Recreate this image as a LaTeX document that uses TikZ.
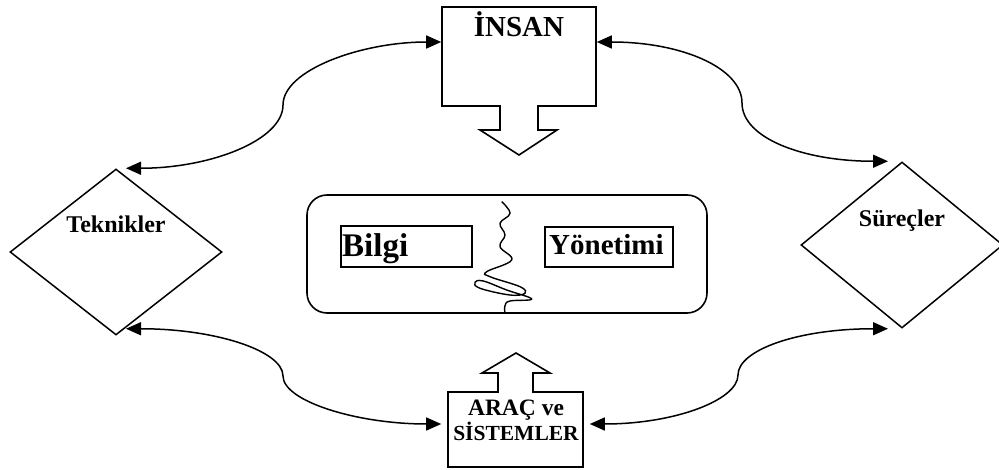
\documentclass[tikz,border=0pt]{standalone}
\usepackage{fontspec}
\setmainfont{Liberation Serif}
\usetikzlibrary{shapes.geometric,arrows.meta}
\begin{document}
\begin{tikzpicture}[x=1pt,y=-1pt,
  outline/.style={draw=black,line width=1.6pt,inner sep=0pt},
  rhomb/.style={diamond,draw=black,line width=1.5pt,inner sep=0pt},
  link/.style={line width=1.5pt,
    {Triangle[length=15pt,width=13pt]}-{Triangle[length=15pt,width=13pt]}},
  word/.style={inner sep=0pt},
  blockarrow/.style={line width=1.6pt,line join=miter}]
\useasboundingbox (0,0) rectangle (999,470);

% --- central panel ---
\node[outline,rounded corners=20pt,minimum width=400pt,minimum height=118pt] (panel) at (507,254) {};
\node[draw=black,line width=1.3pt,inner sep=0pt,minimum width=131pt,minimum height=41pt] (bilgibox) at (406.5,246.5) {};
\node[draw=black,line width=1.3pt,inner sep=0pt,minimum width=128pt,minimum height=40pt] (yonbox) at (609,247) {};
\node[word,anchor=base west,font=\fontsize{33}{33}\selectfont\bfseries] (bilgi) at (342,257) {Bilgi};
\node[word,anchor=base west,font=\fontsize{29}{29}\selectfont\bfseries] (yon) at (549,255) {Yönetimi};
\draw[line width=1.4pt] plot[smooth,tension=0.65] coordinates {
  (501.7,201.7) (510,213.3) (500,223.3) (505,235) (500,246.7)
  (511.7,260) (486.7,271.7) (490,276.7) (520,286.7) (525,293.3)
  (510,295) (480,288.3) (475,282.3) (483.3,281) (506.7,290)
  (531.7,299) (510,301) (505,305.7) (505,313.3)};

% --- top: İNSAN with its downward block arrow ---
\node[outline,minimum width=154pt,minimum height=99pt] (insan) at (519,56.5) {};
\fill[white] (500.8,104.5) rectangle (537.2,107.5);
\draw[blockarrow] (500,106) -- (500,130) -- (480,130) -- (519,155) -- (557,130) -- (538,130) -- (538,106);
\node[word,anchor=base,font=\fontsize{29}{29}\selectfont\bfseries] (insantext) at (519,37) {İNSAN};

% --- bottom: ARAÇ ve SİSTEMLER with its upward block arrow ---
\node[outline,minimum width=135pt,minimum height=75pt] (arac) at (515.5,429.5) {};
\fill[white] (498.8,390.5) rectangle (532.2,393.5);
\draw[blockarrow] (498,392) -- (498,373) -- (482,373) -- (516,353) -- (550,373) -- (533,373) -- (533,392);
\node[word,anchor=base,align=center,font=\fontsize{23.5}{25}\selectfont\bfseries] (aractext) at (516,440)
  {ARAÇ ve\\\fontsize{21.5}{25}\selectfont SİSTEMLER};

% --- side diamonds ---
\node[rhomb,minimum width=212pt,minimum height=166pt] (tek) at (116,252) {};
\node[word,anchor=base,font=\fontsize{24}{24}\selectfont\bfseries] (tektext) at (116,233) {Teknikler};
\node[rhomb,minimum width=202pt,minimum height=166pt] (sur) at (902,245) {};
\node[word,anchor=base,font=\fontsize{24}{24}\selectfont\bfseries] (surtext) at (902,227) {Süreçler};

% --- bend points of the two-way connectors ---
\coordinate (bendTL) at (283,105);
\coordinate (bendTR) at (742,103);
\coordinate (bendBL) at (283,376);
\coordinate (bendBR) at (738,375);

\draw[link] ([xshift=10pt]tek.north) .. controls +(85,0) and +(0,35) .. (bendTL)
  .. controls +(0,-35) and +(-80,0) .. ([yshift=14.5pt]insan.west);
\draw[link] ([yshift=14.5pt]insan.east) .. controls +(85,0) and +(0,-35) .. (bendTR)
  .. controls +(0,35) and +(-85,0) .. ([xshift=-14pt]sur.north);
\draw[link] ([xshift=10pt,yshift=7pt]tek.south) .. controls +(90,0) and +(0,-25) .. (bendBL)
  .. controls +(0,25) and +(-85,0) .. ([xshift=-6pt,yshift=5.5pt]arac.west);
\draw[link] ([xshift=-14pt]sur.south) .. controls +(-90,0) and +(0,-25) .. (bendBR)
  .. controls +(0,25) and +(85,0) .. ([xshift=6pt,yshift=5.5pt]arac.east);
\end{tikzpicture}
\end{document}
